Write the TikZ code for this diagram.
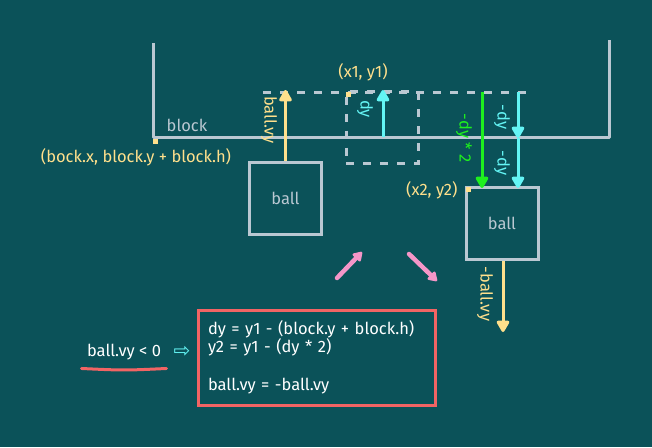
\documentclass[tikz,border=0pt]{standalone}
\usepackage{fontspec}
\setmainfont{Fira Sans}
\newfontfamily\symfont{DejaVu Sans}
\usetikzlibrary{arrows.meta, positioning}
\definecolor{bgteal}{RGB}{11,82,89}
\definecolor{edgegray}{RGB}{186,200,210}
\definecolor{softyellow}{RGB}{255,224,140}
\definecolor{brightcyan}{RGB}{100,245,245}
\definecolor{brightgreen}{RGB}{30,240,30}
\definecolor{softpink}{RGB}{245,150,200}
\definecolor{alertred}{RGB}{242,100,100}
\tikzset{
  hand/.style={font=\fontsize{16.5}{17}\selectfont},
  ballbox/.style={
    rectangle, draw=edgegray, line width=3pt,
    minimum width=72pt, minimum height=72pt,
    text=edgegray, hand
  },
  ghostbox/.style={ballbox, dash pattern=on 8pt off 9pt},
  wall/.style={draw=edgegray, line width=3pt, line join=round},
  ghostline/.style={draw=edgegray, line width=3pt, dash pattern=on 8pt off 9pt},
  cornerdot/.style={rectangle, fill=softyellow, minimum size=5pt, inner sep=0pt},
  ylbl/.style={hand, text=softyellow},
  glbl/.style={hand, text=edgegray},
  vlbl/.style={hand, rotate=-90},
  tip/.style={-{Triangle[length=13pt, width=14pt, round]}},
  yarr/.style={tip, draw=softyellow, fill=softyellow, line width=3pt},
  carr/.style={tip, draw=brightcyan, fill=brightcyan, line width=3pt},
  garr/.style={tip, draw=brightgreen, fill=brightgreen, line width=3pt},
  parr/.style={-{Triangle[length=10pt, width=12pt, round]}, draw=softpink,
    fill=softpink, line width=4.5pt, line cap=round},
  codebox/.style={
    rectangle, draw=alertred, line width=3pt, text=white,
    text width=217pt, inner sep=10pt, minimum height=95pt,
    align=left, hand
  }
}
\begin{document}
\begin{tikzpicture}[x=1pt, y=-1pt]
  \fill[bgteal] (0,0) rectangle (652,447);
  \useasboundingbox (0,0) rectangle (652,447);

  \coordinate (wallL) at (153,43);
  \coordinate (base) at (153,137);
  \coordinate (baseR) at (609,137);
  \coordinate (wallR) at (609,40);
  \draw[wall] (wallL) -- (base) -- (baseR) -- (wallR);
  \node[glbl] (blocklbl) at (187,125) {block};
  \node[cornerdot] (bcorner) at (155,141) {};
  \node[ylbl] (bcornerlbl) at (136,157) {(bock.x, block.y + block.h)};

  \node[ghostbox] (ghost) at (382,127.5) {};
  \coordinate (dashL) at (263,92);
  \coordinate (dashR) at (528,92);
  \draw[ghostline] (dashL) -- (dashR);
  \node[cornerdot] (c1) at (348,94) {};
  \node[ylbl] (c1lbl) at (363,72) {(x1, y1)};

  \node[ballbox] (ballA) at (285.5,198.5) {ball};
  \coordinate (vytop) at (285.5,90);
  \draw[yarr] (ballA.north) -- (vytop);
  \node[ylbl, vlbl] (vylbl) at (269,120) {ball.vy};

  \coordinate (dybot) at (383,137);
  \coordinate (dytop) at (383,90);
  \draw[carr] (dybot) -- (dytop);
  \node[vlbl, text=brightcyan] (dylbl) at (365,109) {dy};

  \node[ballbox] (ballB) at (502,223.5) {ball};
  \node[cornerdot] (c2) at (468,189) {};
  \node[ylbl, anchor=east] (c2lbl) at (461,190) {(x2, y2)};

  \coordinate (gtop) at (482,92);
  \coordinate (gbot) at (482,188);
  \draw[garr] (gtop) -- (gbot);
  \node[vlbl, text=brightgreen] (glbl2) at (464,138) {-dy * 2};

  \coordinate (ctop) at (518,92);
  \coordinate (cmid) at (518,138);
  \coordinate (cbot) at (518,188);
  \draw[carr] (ctop) -- (cmid);
  \draw[carr] (cmid) -- (cbot);
  \node[vlbl, text=brightcyan] (cl1) at (502,117) {-dy};
  \node[vlbl, text=brightcyan] (cl2) at (502,163) {-dy};

  \coordinate (vybot) at (503,332);
  \draw[yarr] (ballB.south -| vybot) -- (vybot);
  \node[ylbl, vlbl] (nvylbl) at (485,294) {-ball.vy};

  \coordinate (p1s) at (337,278);
  \coordinate (p1e) at (362,252);
  \coordinate (p2s) at (409,254);
  \coordinate (p2e) at (437,281);
  \draw[parr] (p1s) -- (p1e);
  \draw[parr] (p2s) -- (p2e);

  \node[hand, text=white] (cond) at (124,352) {ball.vy < 0};
  \draw[alertred, line width=3pt, line cap=round]
    ([xshift=-2pt, yshift=-5pt]cond.south west) .. controls ([yshift=-7pt]cond.south) .. ([xshift=2pt, yshift=-5pt]cond.south east);
  \node[text=brightcyan, font=\symfont\fontsize{20}{20}\selectfont] (then) at (182,352) {⇨};
  \node[codebox] (code) at (316.5,357.5)
    {dy = y1 - (block.y + block.h)\\y2 = y1 - (dy * 2)\\[21pt]ball.vy = -ball.vy};
\end{tikzpicture}
\end{document}
